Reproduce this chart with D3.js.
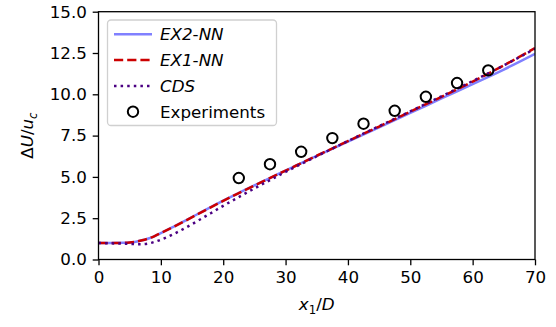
<!DOCTYPE html>
<html>
<head>
<meta charset="utf-8">
<script src="https://cdn.jsdelivr.net/npm/d3@7"></script>
<style>
  body { margin: 0; background: #fff; }
  text { font-family: "DejaVu Sans", sans-serif; }
</style>
</head>
<body>
<svg id="chart" width="556" height="327"></svg>
<script>
// x positions (x1/D) for the simulated curves
const xs = [0, 2, 4, 5, 6, 7, 8, 9, 10, 12, 14, 16, 18, 20, 22.5, 25, 30, 35, 40, 45, 50, 55, 60, 65, 70];
const ex2 = [1.0, 1.0, 1.01, 1.03, 1.08, 1.16, 1.27, 1.42, 1.6, 1.98, 2.37, 2.77, 3.17, 3.56, 4.03, 4.49, 5.38, 6.27, 7.14, 8.0, 8.87, 9.75, 10.62, 11.5, 12.45];
const ex1 = [1.0, 1.0, 1.01, 1.03, 1.08, 1.16, 1.27, 1.42, 1.6, 1.97, 2.36, 2.76, 3.16, 3.55, 4.02, 4.48, 5.38, 6.28, 7.17, 8.05, 8.95, 9.85, 10.77, 11.75, 12.8];
const cds = [1.0, 0.98, 0.96, 0.94, 0.93, 0.93, 0.97, 1.07, 1.2, 1.53, 1.93, 2.36, 2.8, 3.25, 3.78, 4.3, 5.3, 6.25, 7.17, 8.07, 8.97, 9.88, 10.8, 11.75, 12.75];

const expX = [22.5, 27.5, 32.5, 37.5, 42.5, 47.5, 52.5, 57.5, 62.5];
const expY = [4.93, 5.77, 6.52, 7.35, 8.22, 9.0, 9.85, 10.68, 11.45];

const xTicks = [0, 10, 20, 30, 40, 50, 60, 70];
const yTicks = [0, 2.5, 5, 7.5, 10, 12.5, 15];

const fs = 16.7;
const svg = d3.select('#chart');
const pLeft = 98.5, pRight = 535, pTop = 11.7, pBottom = 259.5;

const x = d3.scaleLinear().domain([0, 70]).range([pLeft, pRight]);
const y = d3.scaleLinear().domain([0, 15]).range([pBottom, pTop]);

const series = [
  { name: 'EX2-NN', data: ex2, color: '#8080ff', dash: null },
  { name: 'EX1-NN', data: ex1, color: '#cc0000', dash: '9.2,4' },
  { name: 'CDS', data: cds, color: '#4b0082', dash: '2.5,4.1' }
];

const line = d3.line()
  .x(function(d) { return x(d[0]); })
  .y(function(d) { return y(d[1]); })
  .curve(d3.curveMonotoneX);

const plot = svg.append('g');
plot.append('clipPath').attr('id', 'clip')
  .append('rect').attr('x', pLeft).attr('y', pTop)
  .attr('width', pRight - pLeft).attr('height', pBottom - pTop);

series.forEach(function(s) {
  plot.append('path')
    .datum(xs.map(function(v, i) { return [v, s.data[i]]; }))
    .attr('d', line)
    .attr('clip-path', 'url(#clip)')
    .attr('fill', 'none')
    .attr('stroke', s.color)
    .attr('stroke-width', 2.5)
    .attr('stroke-dasharray', s.dash);
});

plot.selectAll('.exp')
  .data(expX.map(function(v, i) { return [v, expY[i]]; }))
  .enter().append('circle')
  .attr('class', 'exp')
  .attr('cx', function(d) { return x(d[0]); })
  .attr('cy', function(d) { return y(d[1]); })
  .attr('r', 5.2)
  .attr('fill', 'none')
  .attr('stroke', '#000')
  .attr('stroke-width', 2);

// axes
const xAxis = svg.append('g')
  .attr('transform', 'translate(0,' + pBottom + ')')
  .call(d3.axisBottom(x).tickValues(xTicks).tickSize(5.8).tickPadding(5.8).tickFormat(d3.format('d')));
const yAxis = svg.append('g')
  .attr('transform', 'translate(' + pLeft + ',0)')
  .call(d3.axisLeft(y).tickValues(yTicks).tickSize(5.8).tickPadding(5.8).tickFormat(d3.format('.1f')));
[xAxis, yAxis].forEach(function(a) {
  a.select('.domain').remove();
  a.selectAll('line').attr('stroke', '#000').attr('stroke-width', 1.3);
  a.selectAll('text').attr('font-size', fs).attr('fill', '#000')
    .style('font-family', '"DejaVu Sans", sans-serif');
});

svg.append('rect')
  .attr('x', pLeft).attr('y', pTop)
  .attr('width', pRight - pLeft).attr('height', pBottom - pTop)
  .attr('fill', 'none').attr('stroke', '#000').attr('stroke-width', 1.3);

// axis labels
const xl = svg.append('text')
  .attr('x', (pLeft + pRight) / 2).attr('y', 310)
  .attr('text-anchor', 'middle').attr('font-size', fs);
xl.append('tspan').attr('font-style', 'italic').text('x');
xl.append('tspan').attr('font-size', fs * 0.7).attr('dy', 4).text('1');
xl.append('tspan').attr('dy', -4).text('/');
xl.append('tspan').attr('font-style', 'italic').text('D');

const yl = svg.append('text')
  .attr('transform', 'translate(33,' + ((pTop + pBottom) / 2) + ') rotate(-90)')
  .attr('text-anchor', 'middle').attr('font-size', fs);
yl.append('tspan').text('Δ');
yl.append('tspan').attr('font-style', 'italic').text('U');
yl.append('tspan').text('/');
yl.append('tspan').attr('font-style', 'italic').text('u');
yl.append('tspan').attr('font-style', 'italic').attr('font-size', fs * 0.7).attr('dy', 4).text('c');

// legend
const lg = svg.append('g');
lg.append('rect')
  .attr('x', 107.5).attr('y', 20).attr('width', 169).attr('height', 105.5)
  .attr('rx', 3.5)
  .attr('fill', '#fff').attr('fill-opacity', 0.8)
  .attr('stroke', '#d0d0d0').attr('stroke-width', 1.3);
const rowY = [34.3, 60.1, 85.9, 111.7];
series.forEach(function(s, i) {
  lg.append('line')
    .attr('x1', 114).attr('x2', 152).attr('y1', rowY[i]).attr('y2', rowY[i])
    .attr('stroke', s.color).attr('stroke-width', 2.5)
    .attr('stroke-dasharray', s.dash);
  const t = lg.append('text').attr('x', 160).attr('y', rowY[i]).attr('dy', '0.36em')
    .attr('font-size', fs);
  const parts = s.name.split('-');
  if (parts.length > 1) {
    t.append('tspan').attr('font-style', 'italic').text(parts[0]);
    t.append('tspan').text('-');
    t.append('tspan').attr('font-style', 'italic').text(parts[1]);
  } else {
    t.append('tspan').attr('font-style', 'italic').text(s.name);
  }
});
lg.append('circle')
  .attr('cx', 133).attr('cy', rowY[3]).attr('r', 5.2)
  .attr('fill', 'none').attr('stroke', '#000').attr('stroke-width', 2);
lg.append('text').attr('x', 160).attr('y', rowY[3]).attr('dy', '0.36em')
  .attr('font-size', fs).text('Experiments');
</script>
</body>
</html>
